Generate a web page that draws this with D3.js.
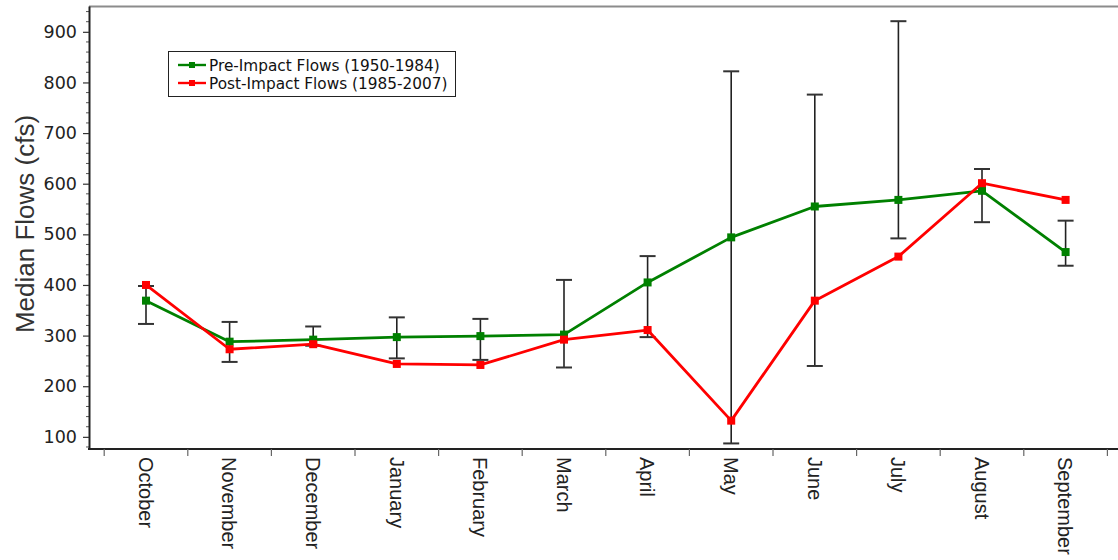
<!DOCTYPE html>
<html>
<head>
<meta charset="utf-8">
<script src="https://cdn.jsdelivr.net/npm/d3@7/dist/d3.min.js"></script>
<style>
  html, body { margin: 0; padding: 0; background: #fff; }
  svg { display: block; }
</style>
</head>
<body>
<svg id="chart" width="1118" height="560"></svg>
<script>
// Monthly median flows, water-year order
const months = ["October", "November", "December", "January", "February", "March",
                "April", "May", "June", "July", "August", "September"];
const preImpact  = [369, 288, 292, 297, 299, 302, 405, 494, 555, 568, 586, 465];
const postImpact = [400, 273, 283, 244, 242, 292, 311, 132, 369, 456, 601, 568];
const rangeLow   = [323, 248, 280, 255, 252, 237, 297,  87, 240, 492, 524, 438];
const rangeHigh  = [398, 327, 318, 336, 333, 410, 457, 822, 776, 921, 629, 527];
const yTicks = [100, 200, 300, 400, 500, 600, 700, 800, 900];
const seriesNames = ["Pre-Impact Flows (1950-1984)", "Post-Impact Flows (1985-2007)"];
const seriesColors = ["#008000", "#ff0000"];

const svg = d3.select("#chart");
const chartW = 1118;
const plotLeft = 89, plotTop = 6, plotBottom = 449;

const x = d3.scaleBand().domain(months).range([104.2, 1107.4]);
const y = d3.scaleLinear().domain([76, 951]).range([plotBottom, plotTop]);
const cx = m => x(m) + x.bandwidth() / 2;

// frame: top rule
svg.append("line")
  .attr("x1", plotLeft).attr("x2", chartW).attr("y1", plotTop + 0.5).attr("y2", plotTop + 0.5)
  .attr("stroke", "#8c8c8c").attr("stroke-width", 2);

// minor y ticks
const minor = d3.range(80, 951, 20).filter(v => v % 100 !== 0);
svg.append("g").selectAll("line").data(minor).join("line")
  .attr("x1", plotLeft - 3).attr("x2", plotLeft)
  .attr("y1", d => y(d)).attr("y2", d => y(d))
  .attr("stroke", "#555").attr("stroke-width", 1);

// y axis
const yAxis = svg.append("g")
  .attr("transform", `translate(${plotLeft},0)`)
  .call(d3.axisLeft(y).tickValues(yTicks).tickSize(6).tickSizeOuter(0).tickPadding(6));
yAxis.select(".domain").attr("stroke", "#222").attr("stroke-width", 2);
yAxis.selectAll(".tick line").attr("stroke", "#333").attr("stroke-width", 1.2);
yAxis.selectAll(".tick text")
  .attr("font-family", "DejaVu Sans, sans-serif")
  .attr("font-size", 17.5)
  .attr("fill", "#222");

// y axis title
svg.append("text")
  .attr("transform", "translate(34,224) rotate(-90)")
  .attr("text-anchor", "middle")
  .attr("font-family", "Liberation Sans, Arial, sans-serif")
  .attr("font-size", 26)
  .attr("fill", "#333")
  .text("Median Flows (cfs)");

// x axis line
svg.append("line")
  .attr("x1", plotLeft - 1).attr("x2", chartW).attr("y1", plotBottom).attr("y2", plotBottom)
  .attr("stroke", "#222").attr("stroke-width", 2);

// x ticks at band edges
const edges = months.map(m => x(m)).concat([x(months[months.length - 1]) + x.bandwidth()]);
svg.append("g").selectAll("line").data(edges).join("line")
  .attr("x1", d => d).attr("x2", d => d)
  .attr("y1", plotBottom).attr("y2", plotBottom + 7)
  .attr("stroke", "#666").attr("stroke-width", 1.2);

// x labels, rotated
svg.append("g").selectAll("text").data(months).join("text")
  .attr("transform", d => `translate(${cx(d)},${plotBottom + 8}) rotate(90)`)
  .attr("dy", "0.36em")
  .attr("text-anchor", "start")
  .attr("font-family", "Liberation Sans, Arial, sans-serif")
  .attr("font-size", 20)
  .attr("fill", "#222")
  .text(d => d);

// range bars
const bars = svg.append("g");
months.forEach((m, i) => {
  const xc = cx(m);
  bars.append("line")
    .attr("x1", xc).attr("x2", xc)
    .attr("y1", y(rangeLow[i])).attr("y2", y(rangeHigh[i]))
    .attr("stroke", "#222").attr("stroke-width", 1.6);
  [rangeLow[i], rangeHigh[i]].forEach(v => {
    bars.append("line")
      .attr("x1", xc - 8).attr("x2", xc + 8)
      .attr("y1", y(v)).attr("y2", y(v))
      .attr("stroke", "#333").attr("stroke-width", 2);
  });
});

// series lines and markers
const line = d3.line().x((d, i) => cx(months[i])).y(d => y(d));
[preImpact, postImpact].forEach((vals, k) => {
  const g = svg.append("g");
  g.append("path").datum(vals)
    .attr("d", line)
    .attr("fill", "none")
    .attr("stroke", seriesColors[k])
    .attr("stroke-width", 2.8)
    .attr("stroke-linejoin", "round");
  g.selectAll("rect").data(vals).join("rect")
    .attr("x", (d, i) => cx(months[i]) - 4)
    .attr("y", d => y(d) - 4)
    .attr("width", 8).attr("height", 8)
    .attr("fill", seriesColors[k]);
});

// legend
const lg = svg.append("g");
lg.append("rect")
  .attr("x", 168.5).attr("y", 51.5).attr("width", 287).attr("height", 45)
  .attr("fill", "#fff").attr("stroke", "#222").attr("stroke-width", 1);
seriesNames.forEach((name, k) => {
  const ly = 65 + k * 18;
  lg.append("line")
    .attr("x1", 178).attr("x2", 206).attr("y1", ly).attr("y2", ly)
    .attr("stroke", seriesColors[k]).attr("stroke-width", 2.4);
  lg.append("rect")
    .attr("x", 189).attr("y", ly - 3).attr("width", 6).attr("height", 6)
    .attr("fill", seriesColors[k]);
  lg.append("text")
    .attr("x", 209).attr("y", ly)
    .attr("dy", "0.36em")
    .attr("font-family", "DejaVu Sans, sans-serif")
    .attr("font-size", 15.3)
    .attr("fill", "#111")
    .text(name);
});
</script>
</body>
</html>
